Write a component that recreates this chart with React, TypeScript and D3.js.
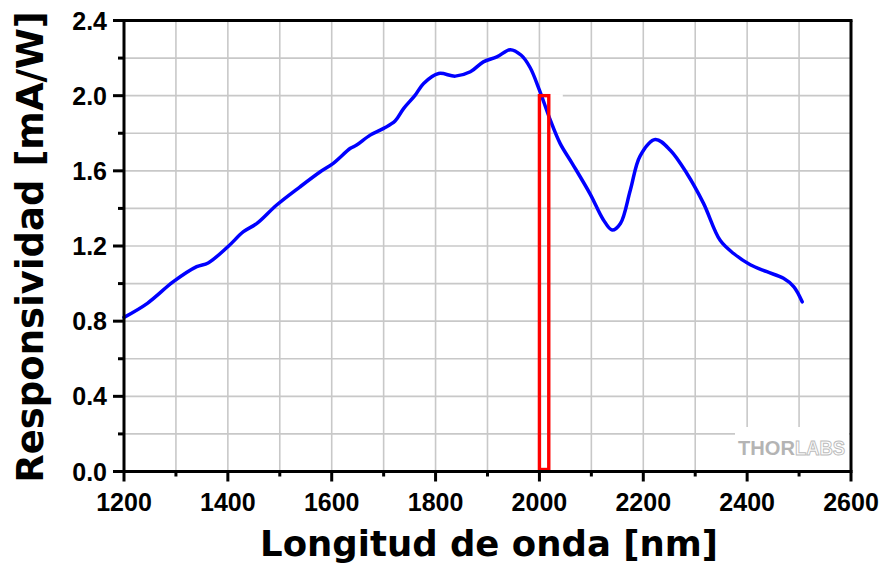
import React from "react";
import * as d3 from "d3";

const wavelength = [1200,1245,1295,1340,1362,1400,1430,1456,1494,1539,1578,1603,1636,1648,1674,1700,1722,1738,1760,1777,1806,1838,1867,1892,1918,1944,1965,1982,2000,2021,2040,2063,2098,2123,2140,2156,2175,2194,2223,2252,2284,2316,2348,2374,2406,2438,2470,2490,2506];
const responsivity = [0.82,0.895,1.01,1.09,1.11,1.196,1.276,1.32,1.418,1.515,1.595,1.64,1.72,1.737,1.79,1.826,1.865,1.93,2.0,2.065,2.118,2.104,2.127,2.18,2.206,2.245,2.215,2.15,2.03,1.87,1.745,1.64,1.475,1.34,1.285,1.32,1.497,1.68,1.767,1.71,1.586,1.427,1.23,1.16,1.10,1.063,1.028,0.983,0.903];
const xMajorTicks = [1200,1400,1600,1800,2000,2200,2400,2600];
const xMinorTicks = [1300,1500,1700,1900,2100,2300,2500];
const yMajorTicks = [0,0.4,0.8,1.2,1.6,2.0,2.4];
const yMinorTicks = [0.2,0.6,1.0,1.4,1.8,2.2];
const highlightRange = [2000, 2018];
const highlightValue = 2.0;

export default function App() {
  const W = 886, H = 565;
  const x = d3.scaleLinear().domain([1200, 2600]).range([124, 851]);
  const y = d3.scaleLinear().domain([0, 2.4]).range([471.5, 20.5]);
  const gridX = d3.range(1200, 2601, 100);
  const gridY = d3.range(0, 2.41, 0.2);
  const pts = wavelength.map((w, i) => [w, responsivity[i]] as [number, number]);
  const line = d3.line<[number, number]>().x(d => x(d[0])).y(d => y(d[1])).curve(d3.curveCatmullRom.alpha(0.5));
  const tickFont = "'Liberation Sans', Arial, sans-serif";
  const titleFont = "'DejaVu Sans', Verdana, sans-serif";
  return (
    <svg width={W} height={H} style={{ position: "absolute", left: 0, top: 0, background: "#fff" }}>
      <rect width={W} height={H} fill="#fff" />
      {gridX.map(v => (
        <line key={"gx" + v} x1={x(v)} x2={x(v)} y1={y(2.4)} y2={y(0)} stroke="#c8c8c8" strokeWidth={1.6} />
      ))}
      {gridY.map(v => (
        <line key={"gy" + v} x1={x(1200)} x2={x(2600)} y1={y(v)} y2={y(v)} stroke="#c8c8c8" strokeWidth={1.6} />
      ))}
      <line x1={x(2018)} x2={x(2045)} y1={y(2.0)} y2={y(2.0)} stroke="#fff" strokeWidth={3} />
      <rect x={735} y={427} width={114} height={43} fill="#fff" />
      <text x={738} y={455} fontFamily={tickFont} fontWeight="bold" fontSize={20}>
        <tspan fill="#b4b4b4" textLength={57} lengthAdjust="spacingAndGlyphs">THOR</tspan>
        <tspan x={795} fill="#fff" stroke="#bcbcbc" strokeWidth={1} textLength={50} lengthAdjust="spacingAndGlyphs">LABS</tspan>
      </text>
      <path d={line(pts) || ""} fill="none" stroke="#0000ff" strokeWidth={3.5} strokeLinejoin="round" strokeLinecap="round" />
      <rect x={x(highlightRange[0])} y={y(highlightValue)} width={x(highlightRange[1]) - x(highlightRange[0])} height={y(0) - y(highlightValue) - 2} fill="none" stroke="#ff0000" strokeWidth={3.4} />
      {/* frame */}
      <line x1={x(1200)} x2={x(2600) + 1.5} y1={y(2.4)} y2={y(2.4)} stroke="#000" strokeWidth={3} />
      <line x1={x(2600)} x2={x(2600)} y1={y(2.4)} y2={y(0)} stroke="#000" strokeWidth={3} />
      <line x1={x(1200)} x2={x(1200)} y1={y(2.4) - 1.5} y2={y(0) + 1.5} stroke="#000" strokeWidth={3} />
      <line x1={x(1200) - 1.5} x2={x(2600) + 1.5} y1={y(0)} y2={y(0)} stroke="#000" strokeWidth={3} />
      {yMajorTicks.map(v => (
        <g key={"ym" + v}>
          <line x1={x(1200) - 11} x2={x(1200)} y1={y(v)} y2={y(v)} stroke="#000" strokeWidth={3} />
          <text x={107} y={y(v) + 9} textAnchor="end" fontFamily={tickFont} fontWeight="bold" fontSize={25} fill="#000">{v.toFixed(1)}</text>
        </g>
      ))}
      {yMinorTicks.map(v => (
        <line key={"yn" + v} x1={x(1200) - 6} x2={x(1200)} y1={y(v)} y2={y(v)} stroke="#000" strokeWidth={3} />
      ))}
      {xMajorTicks.map(v => (
        <g key={"xm" + v}>
          <line x1={x(v)} x2={x(v)} y1={y(0)} y2={y(0) + 10} stroke="#000" strokeWidth={3} />
          <text x={x(v)} y={511} textAnchor="middle" fontFamily={tickFont} fontWeight="bold" fontSize={25} fill="#000">{v}</text>
        </g>
      ))}
      {xMinorTicks.map(v => (
        <line key={"xn" + v} x1={x(v)} x2={x(v)} y1={y(0)} y2={y(0) + 5} stroke="#000" strokeWidth={3} />
      ))}
      <text x={489} y={556} textAnchor="middle" fontFamily={titleFont} fontWeight="bold" fontSize={35.5} fill="#000">Longitud de onda [nm]</text>
      <text transform={`translate(43, 247) rotate(-90)`} textAnchor="middle" fontFamily={titleFont} fontWeight="bold" fontSize={37} fill="#000">Responsividad [mA/W]</text>
    </svg>
  );
}
